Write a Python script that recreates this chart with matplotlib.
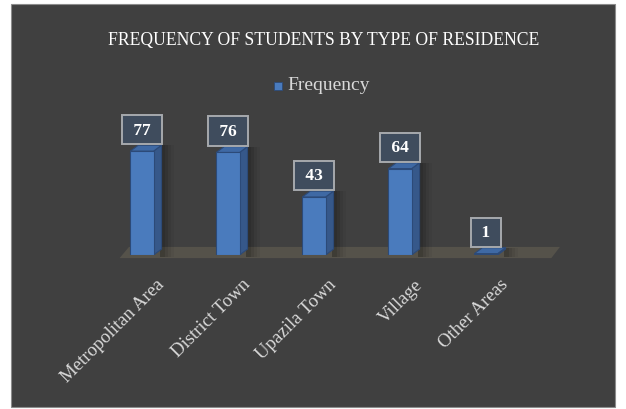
import matplotlib
matplotlib.use("Agg")
import matplotlib.pyplot as plt
from matplotlib.patches import Rectangle, Polygon
from matplotlib.transforms import ScaledTranslation

# Chart data
categories = ["Metropolitan Area", "District Town", "Upazila Town", "Village", "Other Areas"]
frequency = [77, 76, 43, 64, 1]

TITLE = "FREQUENCY OF STUDENTS BY TYPE OF RESIDENCE"
SERIES = "Frequency"

plt.rcParams['font.family'] = ['Liberation Serif', 'DejaVu Serif']

BG = "#404040"
FRONT = "#4a7bbd"
SIDE = "#36588a"
TOP = "#3f69a4"
EDGE = "#2c4a78"
LIGHT = "#d9d9d9"

fig = plt.figure(figsize=(6.26, 4.10), dpi=100)
fig.patch.set_facecolor("white")

# dark chart panel
fig.add_artist(Rectangle((0.0176, 0.005), 0.965, 0.983, transform=fig.transFigure,
                         facecolor=BG, edgecolor="#8c8c8c", linewidth=0.8, zorder=0))

ax = fig.add_axes([0.158, 0.3756, 0.687, 0.329])
ax.set_facecolor("none")
ax.set_xlim(-0.5, 4.5)
ax.set_ylim(0, 100)
for s in ax.spines.values():
    s.set_visible(False)
ax.set_yticks([])

x = list(range(len(categories)))
w = 0.27      # bar width (data units)
dx = 0.093    # depth offset in x
dy = 4.4      # depth offset in y

# floor
floor = Polygon([(-0.26, -2.3), (4.76, -2.3), (4.86, 6.0), (-0.15, 6.0)],
                closed=True, facecolor="#55524a", edgecolor="none", zorder=1, clip_on=False)
ax.add_patch(floor)

# soft shadows right of bars
for xi, v in zip(x, frequency):
    for k, a in enumerate([0.10, 0.08, 0.06, 0.04]):
        ax.add_patch(Rectangle((xi + w / 2 + dx - 0.02, -1.5), 0.06 + 0.035 * k, v + dy + 1.5,
                               facecolor="black", alpha=a, edgecolor="none", zorder=1.5, clip_on=False))

bars = ax.bar(x, frequency, width=w, color=FRONT, edgecolor=EDGE, linewidth=0.8, zorder=3)

for xi, v in zip(x, frequency):
    l, r = xi - w / 2, xi + w / 2
    side = Polygon([(r, 0), (r + dx, dy), (r + dx, v + dy), (r, v)], closed=True,
                   facecolor=SIDE, edgecolor=EDGE, linewidth=0.8, zorder=2.9)
    top = Polygon([(l, v), (r, v), (r + dx, v + dy), (l + dx, v + dy)], closed=True,
                  facecolor=TOP, edgecolor=EDGE, linewidth=0.8, zorder=2.9)
    ax.add_patch(side)
    ax.add_patch(top)

# value labels in boxes
for xi, v in zip(x, frequency):
    ax.annotate(" %d " % v, xy=(xi, v), xytext=(0, 15.5), textcoords="offset points",
                ha="center", va="center", fontsize=12.5, fontweight="bold", color="white",
                zorder=5, annotation_clip=False,
                bbox=dict(boxstyle="square,pad=0.38", facecolor="#3f4c5d",
                          edgecolor="#a6a9ad", linewidth=1.4))

# category labels
ax.set_xticks(x)
ax.set_xticklabels(categories, rotation=45, ha="right", va="center",
                   rotation_mode="anchor", fontsize=13.5, color=LIGHT)
ax.tick_params(axis="x", length=0, pad=19)
offset = ScaledTranslation(0.2, 0, fig.dpi_scale_trans)
for lab in ax.get_xticklabels():
    lab.set_transform(lab.get_transform() + offset)

# title and legend
fig.text(0.517, 0.902, TITLE, ha="center", va="center", fontsize=12.7, color="white")
fig.add_artist(Rectangle((274 / 626, 1 - 91 / 410), 8 / 626, 8 / 410, transform=fig.transFigure,
                         facecolor=FRONT, edgecolor=EDGE, linewidth=0.6))
fig.text(287 / 626, 1 - 86 / 410, SERIES, ha="left", va="center", fontsize=14, color=LIGHT)

fig.savefig("out.png", dpi=100, facecolor=fig.get_facecolor())
